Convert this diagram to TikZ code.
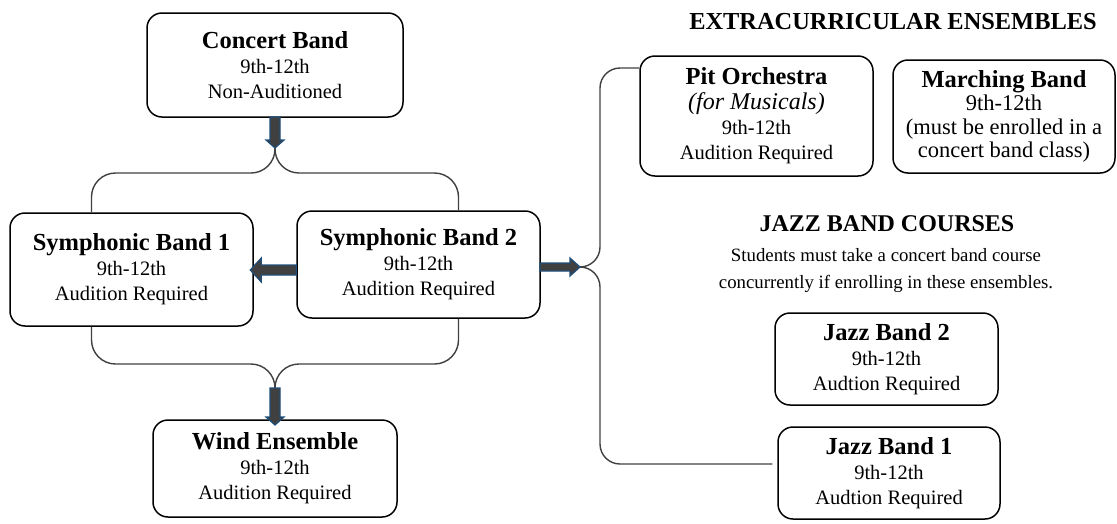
\documentclass[tikz,border=0pt]{standalone}
\usepackage{fontspec}
\setmainfont{Liberation Serif}
\usetikzlibrary{positioning}
\definecolor{arrowblue}{HTML}{1F4E79}
\definecolor{arrowgray}{HTML}{404040}
\definecolor{bracegray}{HTML}{404040}
\newcommand{\bandname}[1]{{\fontsize{24.5}{25}\selectfont\bfseries #1}}
\tikzset{band/.style = {draw, line width=1.5pt, rounded corners=15pt, fill=white, align=center, inner sep=0pt, font=\fontsize{20.5}{25}\selectfont}}
\tikzset{brace/.style = {draw=bracegray, line width=1.4pt, rounded corners=24pt}}
\tikzset{blockarrow/.style = {draw=arrowblue, fill=arrowgray, line width=1.2pt}}

\begin{document}
\begin{tikzpicture}[x=1pt, y=-1pt]
      \useasboundingbox (0,0) rectangle (1117,523);

      % concert band courses
      \node [band, minimum width=256pt, minimum height=104pt] (concert) at (275,65) {\bandname{Concert Band}\\9th-12th\\Non-Auditioned};
      \node [band, minimum width=243pt, minimum height=113pt] (symph1) at (131.5,269.5) {\bandname{Symphonic Band 1}\\9th-12th\\Audition Required};
      \node [band, minimum width=243pt, minimum height=107pt] (symph2) at (418.5,264.5) {\bandname{Symphonic Band 2}\\9th-12th\\Audition Required};
      \node [band, minimum width=244pt, minimum height=97pt] (wind) at (275,468.5) {\bandname{Wind Ensemble}\\9th-12th\\Audition Required};

      % extracurricular
      \node [font=\fontsize{24.4}{25}\selectfont\bfseries] (extrahead) at (893,22) {EXTRACURRICULAR ENSEMBLES};
      \node [band, minimum width=233pt, minimum height=120pt] (pit) at (756.5,116) {\bandname{Pit Orchestra}\\{\fontsize{24}{25}\selectfont\itshape (for Musicals)}\\9th-12th\\Audition Required};
      \node [band, minimum width=222pt, minimum height=113pt, font=\fontsize{22.5}{23.5}\selectfont] (marching) at (1004,116.5) {\bandname{Marching Band}\\9th-12th\\(must be enrolled in a\\concert band class)};

      % jazz
      \node [font=\fontsize{24}{25}\selectfont\bfseries] (jazzhead) at (887,224) {JAZZ BAND COURSES};
      \node [align=center, font=\fontsize{18.8}{27}\selectfont] (jazznote) at (886,270) {Students must take a concert band course\\concurrently if enrolling in these ensembles.};
      \node [band, minimum width=223pt, minimum height=92pt] (jazz2) at (886.5,359) {\bandname{Jazz Band 2}\\9th-12th\\Audtion Required};
      \node [band, minimum width=222pt, minimum height=92pt] (jazz1) at (889,473) {\bandname{Jazz Band 1}\\9th-12th\\Audtion Required};

      \coordinate (toptip) at (275,148);
      \coordinate (topbar) at (275,173);
      \coordinate (bottip) at (275,388);
      \coordinate (botbar) at (275,364);
      \coordinate (rtip) at (580,267);
      \coordinate (rbar) at (600,267);

      \draw [brace] ([xshift=-40pt]symph1.north) |- (topbar) -- (toptip);
      \draw [brace] ([xshift=40pt]symph2.north) |- (topbar) -- (toptip);
      \draw [brace] ([xshift=-40pt]symph1.south) |- (botbar) -- (bottip);
      \draw [brace] ([xshift=40pt]symph2.south) |- (botbar) -- (bottip);
      \draw [brace, rounded corners=20pt] (rtip) -- (rbar) |- ([yshift=48pt]pit.west);
      \draw [brace, rounded corners=20pt] (rtip) -- (rbar) |- ([shift={(-5pt,9pt)}]jazz1.west);

      \draw [blockarrow] (toptip) -- ++(9,-8) -- ++(-4,0) -- ++(0,-23) -- ++(-10,0) -- ++(0,23) -- ++(-4,0) -- cycle;
      \draw [blockarrow] (bottip) ++(-5,0) -- ++(10,0) -- ++(0,29) -- ++(4,0) -- ++(-9,8) -- ++(-9,-8) -- ++(4,0) -- cycle;
      \draw [blockarrow] ([yshift=-0.5pt]symph2.west) -- ++(-35,0) -- ++(0,-7) -- ++(-11,12) -- ++(11,12) -- ++(0,-7) -- ++(35,0) -- cycle;
      \draw [blockarrow] (rtip) -- ++(-10,-9) -- ++(0,5) -- ++(-30,0) -- ++(0,8) -- ++(30,0) -- ++(0,5) -- cycle;
\end{tikzpicture}
\end{document}
